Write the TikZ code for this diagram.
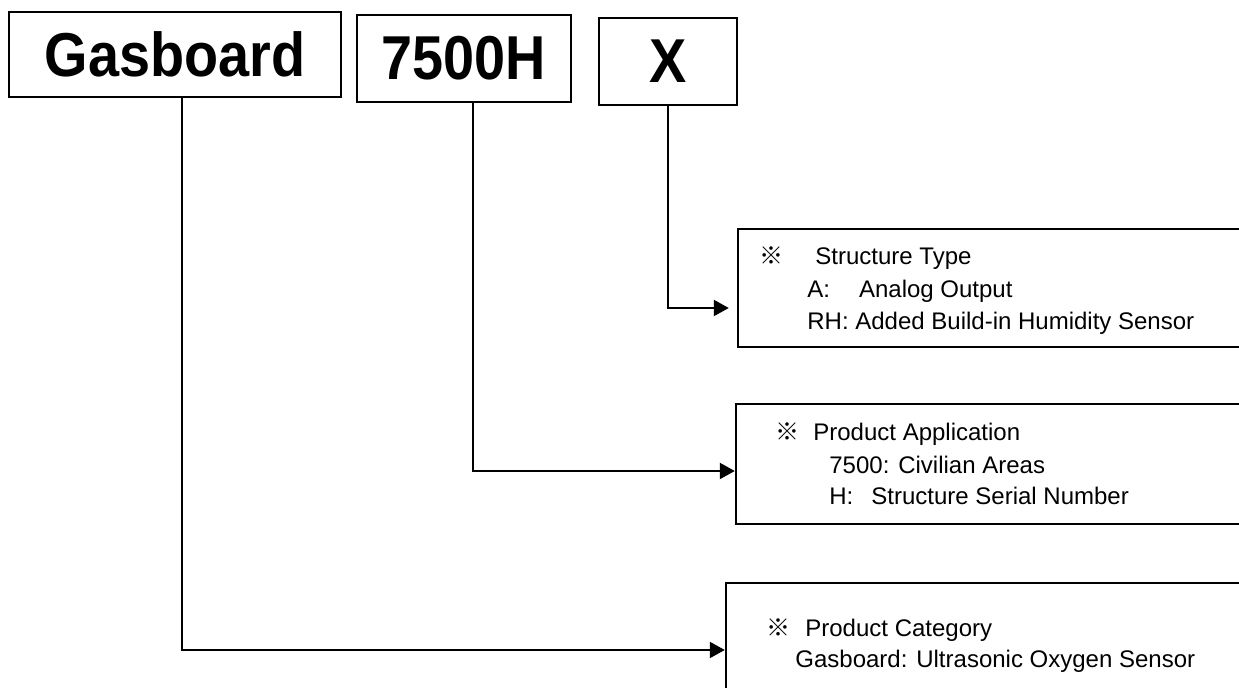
\documentclass[tikz,border=0pt]{standalone}
\usepackage{fontspec}
\setmainfont{Liberation Sans}
\newfontfamily\bigfont[FakeStretch=0.9]{Liberation Sans}
\newfontfamily\cjk{Noto Sans CJK SC}
\usetikzlibrary{arrows.meta}
\tikzset{
  bigbox/.style={draw, line width=1.2pt, inner sep=0pt, font=\bigfont\bfseries\fontsize{31}{31}\selectfont},
  infobox/.style={draw, line width=1.2pt, inner sep=0pt},
  conn/.style={line width=1pt, -{Triangle[length=7.5pt,width=8pt]}},
  txt/.style={anchor=base west, inner sep=0pt, font=\fontsize{12}{14}\selectfont}
}
\begin{document}
\begin{tikzpicture}[x=0.5pt,y=-0.5pt]
\useasboundingbox (0,0) rectangle (1239,688);
\clip (0,0) rectangle (1239,688);
% top boxes
\node[bigbox, minimum width=166pt, minimum height=42.5pt] (gas) at (175,54.5) {Gasboard};
\node[bigbox, minimum width=107pt, minimum height=43.5pt] (num) at (464,58.5) {7500H};
\node[bigbox, minimum width=69pt, minimum height=43.5pt] (xb) at (668,61.5) {X};
% info boxes
\node[infobox, minimum width=261pt, minimum height=59pt] (st) at (999,288) {};
\node[infobox, minimum width=262pt, minimum height=60pt] (app) at (998,464) {};
\node[infobox, minimum width=267pt, minimum height=68.5pt] (cat) at (993,651.5) {};
% texts
\node[txt] (s1) at (759,265) {{\cjk ※}\hspace{16pt}Structure Type};
\node[txt] (s2) at (807,298) {A:\hspace{14.5pt}Analog Output};
\node[txt] (s3) at (807,330) {RH: Added Build-in Humidity Sensor};
\node[txt] (a1) at (775,441) {{\cjk ※}\hspace{7pt}Product Application};
\node[txt] (a2) at (829,474) {7500: Civilian Areas};
\node[txt] (a3) at (829,505) {H:\hspace{9pt}Structure Serial Number};
\node[txt] (c1) at (766,637) {{\cjk ※}\hspace{7.5pt}Product Category};
\node[txt] (c2) at (795,668) {Gasboard: Ultrasonic Oxygen Sensor};
% connectors
\draw[conn] ([xshift=3.5pt]gas.south) |- (cat.west |- 0,650);
\draw[conn] ([xshift=4.5pt]num.south) |- (app.west |- 0,471);
\draw[conn] (xb.south) |- ([xshift=-4pt]st.west |- 0,308);
\end{tikzpicture}
\end{document}
